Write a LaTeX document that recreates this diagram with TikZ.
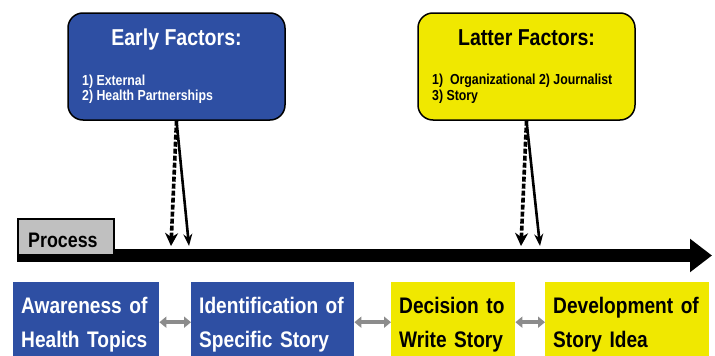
\documentclass[tikz,border=0pt]{standalone}
\usepackage{fontspec}
\setmainfont{Liberation Sans}[FakeStretch=0.85]
\usetikzlibrary{arrows.meta}
\definecolor{boxblue}{RGB}{46,79,163}
\definecolor{boxyellow}{RGB}{240,232,0}
\definecolor{linkgray}{RGB}{140,140,140}
\definecolor{procgray}{RGB}{192,192,192}
\tikzset{
  factorbox/.style={draw=black, line width=1.5pt, rounded corners=15pt,
    minimum width=217pt, minimum height=107pt, inner sep=0pt},
  factortitle/.style={anchor=base, inner sep=0pt, font=\bfseries\fontsize{23}{27}\selectfont},
  factorlist/.style={anchor=base west, inner sep=0pt, font=\bfseries\fontsize{14.5}{16}\selectfont},
  stepbox/.style={minimum height=84pt, inner ysep=0pt, inner xsep=8pt, align=left,
    anchor=north west, font=\bfseries\fontsize{22.5}{34}\selectfont},
  dasharrow/.style={line width=3.6pt, dash pattern=on 5pt off 2pt, -{Stealth[length=13pt,width=13pt]}},
  solidarrow/.style={line width=2.6pt, -{Stealth[length=12pt,width=9pt]}},
  linkarrow/.style={draw=linkgray, line width=4pt,
    {Triangle[length=7pt,width=11pt]}-{Triangle[length=7pt,width=11pt]}},
  bararrow/.style={line width=13pt, -{Triangle[length=22pt,width=32pt]}},
}
\begin{document}
\begin{tikzpicture}[x=1pt,y=-1pt]
\useasboundingbox[fill=white] (0,0) rectangle (715,356);

% top factor boxes
\node[factorbox, fill=boxblue] (early) at (176.5,66.5) {};
\node[factortitle, text=white] (earlyt) at (176.5,45) {Early Factors:};
\node[factorlist, text=white] (earlyl1) at (82,85) {1) External};
\node[factorlist, text=white] (earlyl2) at (82,100) {2) Health Partnerships};

\node[factorbox, fill=boxyellow] (latter) at (526.5,66.5) {};
\node[factortitle, text=black] (lattert) at (526.5,45) {Latter Factors:};
\node[factorlist, text=black] (latterl1) at (432,84) {1)\ \ Organizational 2) Journalist};
\node[factorlist, text=black] (latterl2) at (432,100) {3) Story};

% process bar
\coordinate (barstart) at (17,255.5);
\coordinate (barend) at (712,255.5);
\draw[bararrow] (barstart) -- (barend);
\node[draw=black, line width=1.5pt, fill=procgray, minimum width=96pt, minimum height=36pt,
  inner sep=0pt, anchor=north west] (proc) at (17,218) {};
\node[anchor=base west, inner sep=0pt, font=\bfseries\fontsize{21}{24}\selectfont] (proct) at (28,247) {Process};

% factor arrows
\coordinate (ed) at (171,246);
\coordinate (es) at (189,246);
\coordinate (ld) at (521,246);
\coordinate (ls) at (540,246);
\draw[dasharrow] (early.south) -- (ed);
\draw[solidarrow] (early.south) -- (es);
\draw[dasharrow] (latter.south) -- (ld);
\draw[solidarrow] (latter.south) -- (ls);

% process steps
\node[stepbox, fill=boxblue, text=white, text width=130pt] (s1) at (13,282) {Awareness of\\Health Topics};
\node[stepbox, fill=boxblue, text=white, text width=147pt] (s2) at (191,282) {Identification of\\Specific Story};
\node[stepbox, fill=boxyellow, text=black, text width=108pt] (s3) at (391,282) {Decision to\\Write Story};
\node[stepbox, fill=boxyellow, text=black, text width=148pt] (s4) at (545,282) {Development of\\Story Idea};

\draw[linkarrow] ([yshift=2pt]s1.east) -- ([yshift=2pt]s2.west);
\draw[linkarrow] ([yshift=2pt]s2.east) -- ([yshift=2pt]s3.west);
\draw[linkarrow] ([yshift=2pt]s3.east) -- ([yshift=2pt]s4.west);
\end{tikzpicture}
\end{document}
